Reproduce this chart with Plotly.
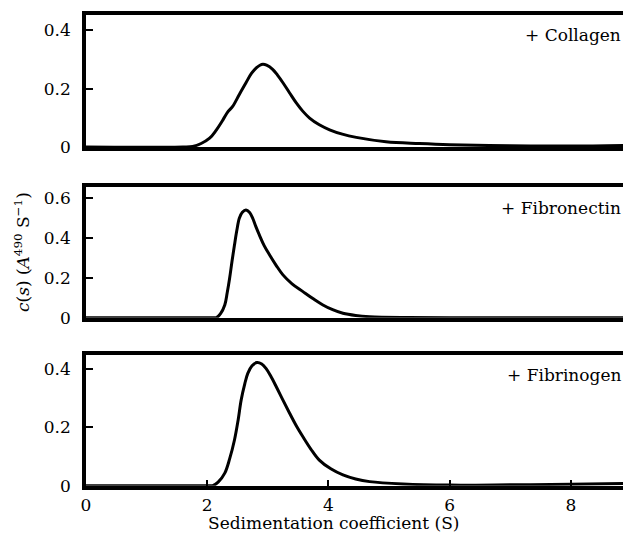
import plotly.graph_objects as go

# ---- data ----
collagen_s = [0, 1.6, 1.76, 1.9, 2.04, 2.15, 2.26, 2.34, 2.42, 2.53, 2.64, 2.73, 2.81, 2.87, 2.92, 2.98, 3.08, 3.16, 3.25, 3.36, 3.47, 3.58, 3.69, 3.85, 4.02, 4.23, 4.46, 4.95, 5.5, 6.0, 7.0, 8.0, 8.9]
collagen_c = [0, 0, 0.002, 0.012, 0.030, 0.058, 0.093, 0.120, 0.139, 0.180, 0.220, 0.252, 0.271, 0.280, 0.283, 0.280, 0.266, 0.246, 0.220, 0.185, 0.151, 0.122, 0.099, 0.076, 0.059, 0.044, 0.033, 0.018, 0.012, 0.008, 0.004, 0.003, 0.005]

fibronectin_s = [0, 2.1, 2.15, 2.22, 2.29, 2.33, 2.37, 2.41, 2.45, 2.49, 2.53, 2.58, 2.64, 2.70, 2.75, 2.80, 2.86, 2.94, 3.03, 3.14, 3.25, 3.40, 3.58, 3.75, 3.91, 4.07, 4.24, 4.45, 4.68, 5.2, 6.0, 9.0]
fibronectin_c = [0, 0, 0, 0.02, 0.064, 0.125, 0.198, 0.285, 0.365, 0.440, 0.50, 0.530, 0.541, 0.528, 0.50, 0.46, 0.416, 0.362, 0.315, 0.262, 0.215, 0.170, 0.131, 0.095, 0.064, 0.040, 0.022, 0.011, 0.005, 0.001, 0, 0]

fibrinogen_s = [0, 2.05, 2.09, 2.18, 2.29, 2.37, 2.45, 2.51, 2.56, 2.62, 2.67, 2.74, 2.82, 2.90, 2.97, 3.05, 3.14, 3.25, 3.36, 3.47, 3.58, 3.71, 3.85, 4.04, 4.24, 4.45, 4.68, 5.23, 6.0, 7.0, 8.0, 8.9]
fibrinogen_c = [0, 0, 0, 0.012, 0.043, 0.092, 0.157, 0.225, 0.294, 0.350, 0.386, 0.412, 0.423, 0.418, 0.403, 0.376, 0.340, 0.294, 0.249, 0.206, 0.168, 0.126, 0.088, 0.058, 0.037, 0.023, 0.014, 0.006, 0.002, 0.003, 0.005, 0.008]

panel_labels = ["+ Collagen", "+ Fibronectin", "+ Fibrinogen"]
x_ticks = [0, 2, 4, 6, 8]
y_ticks_1 = [0, 0.2, 0.4]
y_ticks_2 = [0, 0.2, 0.4, 0.6]
y_ticks_3 = [0, 0.2, 0.4]

FONT = "DejaVu Serif"
FS = 17
W, H = 623, 540
L = 86

fig = go.Figure()
series = [(collagen_s, collagen_c), (fibronectin_s, fibronectin_c), (fibrinogen_s, fibrinogen_c)]
for i, (s, c) in enumerate(series, start=1):
    fig.add_trace(go.Scatter(
        x=s, y=c, mode="lines",
        line=dict(color="black", width=3, shape="spline", smoothing=1.0),
        xaxis="x" if i == 1 else f"x{i}", yaxis="y" if i == 1 else f"y{i}",
        showlegend=False, hoverinfo="skip"))

def px_to_dom(top, bottom):
    return [1 - bottom / H, 1 - top / H]

domains = [px_to_dom(15, 147), px_to_dom(186.7, 317.7), px_to_dom(355, 485.7)]
ranges = [[0, 0.452], [0, 0.658], [0, 0.449]]
yticks = [y_ticks_1, y_ticks_2, y_ticks_3]
xmax = (W - L) / 60.6

layout = dict(
    width=W, height=H,
    margin=dict(l=L, r=0, t=0, b=0, autoexpand=False),
    paper_bgcolor="white", plot_bgcolor="white",
    font=dict(family=FONT, size=FS, color="black"),
    showlegend=False,
)
for i in range(1, 4):
    xa = "xaxis" if i == 1 else f"xaxis{i}"
    ya = "yaxis" if i == 1 else f"yaxis{i}"
    yid = "y" if i == 1 else f"y{i}"
    xid = "x" if i == 1 else f"x{i}"
    last = (i == 3)
    layout[xa] = dict(
        domain=[0, 1], anchor=yid, range=[0, xmax], automargin=False,
        showline=True, linecolor="black", linewidth=3.5, mirror=True,
        showgrid=False, zeroline=False,
        ticks="inside" if last else "", ticklen=6, tickwidth=1.5, tickcolor="black",
        tickvals=x_ticks, showticklabels=last, ticklabelstandoff=1,
        tickfont=dict(family=FONT, size=FS, color="black"),
    )
    layout[ya] = dict(
        domain=domains[i - 1], anchor=xid, range=ranges[i - 1], automargin=False,
        showline=True, linecolor="black", linewidth=3.5, mirror=False,
        showgrid=False, zeroline=False,
        ticks="inside", ticklen=7, tickwidth=1.5, tickcolor="black",
        tickvals=yticks[i - 1], ticklabelstandoff=8,
        tickfont=dict(family=FONT, size=FS, color="black"),
    )
fig.update_layout(**layout)

# panel labels
label_y_px = [35, 208.3, 375]
for lab, ypx in zip(panel_labels, label_y_px):
    fig.add_annotation(text=lab, xref="paper", yref="paper",
                       x=1.0, y=1 - ypx / H, xanchor="right", yanchor="middle",
                       showarrow=False, font=dict(family=FONT, size=FS, color="black"))

# axis titles
fig.add_annotation(text="Sedimentation coefficient (S)", xref="paper", yref="paper",
                   x=(333 - L) / (W - L), y=1 - 523 / H, xanchor="center", yanchor="middle",
                   showarrow=False, font=dict(family=FONT, size=FS, color="black"))
fig.add_annotation(text="<i>c</i>(<i>s</i>) (<i>A</i><sup>490</sup> S<sup>\u22121</sup>)",
                   xref="paper", yref="paper", textangle=-90,
                   x=(22 - L) / (W - L), y=1 - 252 / H, xanchor="center", yanchor="middle",
                   showarrow=False, font=dict(family=FONT, size=FS, color="black"))

fig.write_html("out.html", config={"displayModeBar": False},
               post_script="document.body.style.margin='0';document.body.style.padding='0';")
